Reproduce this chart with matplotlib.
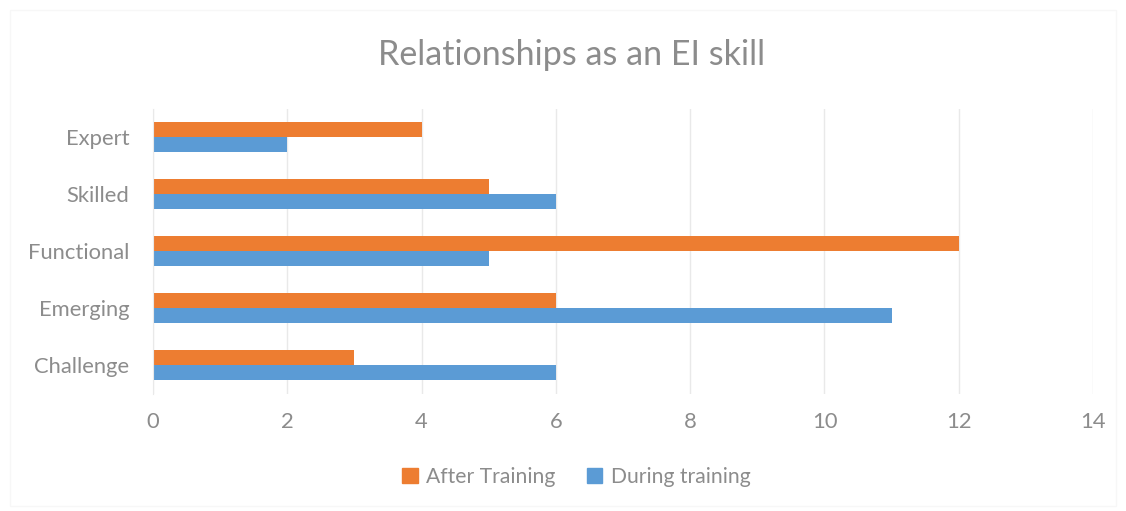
import numpy as np
import matplotlib
matplotlib.use('Agg')
import matplotlib.pyplot as plt
from matplotlib.patches import Patch

categories = ["Challenge", "Emerging", "Functional", "Skilled", "Expert"]
after_training = [3, 6, 12, 5, 4]
during_training = [6, 11, 5, 6, 2]

orange = "#ED7D31"
blue = "#5B9BD5"
text_grey = "#8C8C8C"

plt.rcParams['font.family'] = ['Lato', 'DejaVu Sans']

fig = plt.figure(figsize=(11.26, 5.11), dpi=100)
ax = fig.add_axes([0.1359, 0.2299, 0.8348, 0.5577])

y = np.arange(len(categories))
h = 0.263
ax.barh(y + h / 2, after_training, height=h, color=orange, label="After Training")
ax.barh(y - h / 2, during_training, height=h, color=blue, label="During training")

ax.set_xlim(0, 14)
ax.set_ylim(-0.5, len(categories) - 0.5)
ax.set_xticks(range(0, 15, 2))
ax.set_yticks(y)
ax.set_yticklabels(categories)
ax.grid(axis='x', color="#E9E9E9", linewidth=1)
ax.set_axisbelow(True)
for s in ax.spines.values():
    s.set_visible(False)
ax.spines['left'].set_visible(True)
ax.spines['left'].set_color("#E9E9E9")
ax.tick_params(length=0, labelsize=15.8, colors=text_grey)
ax.tick_params(axis='x', pad=13)
ax.tick_params(axis='y', pad=17)

fig.text(0.508, 0.892, "Relationships as an EI skill", ha='center', va='center',
         fontsize=24.5, color=text_grey)

handles = [Patch(color=orange, label="After Training"),
           Patch(color=blue, label="During training")]
fig.legend(handles=handles, loc='center', bbox_to_anchor=(0.512, 0.066), ncol=2,
           frameon=False, fontsize=15.2, labelcolor=text_grey,
           handlelength=0.72, handleheight=0.72, handletextpad=0.4, columnspacing=1.5)

fig.add_artist(plt.Rectangle((0.009, 0.01), 0.982, 0.97, transform=fig.transFigure,
                             fill=False, edgecolor="#F7F7F7", linewidth=1))

plt.savefig("out.png", dpi=100)
